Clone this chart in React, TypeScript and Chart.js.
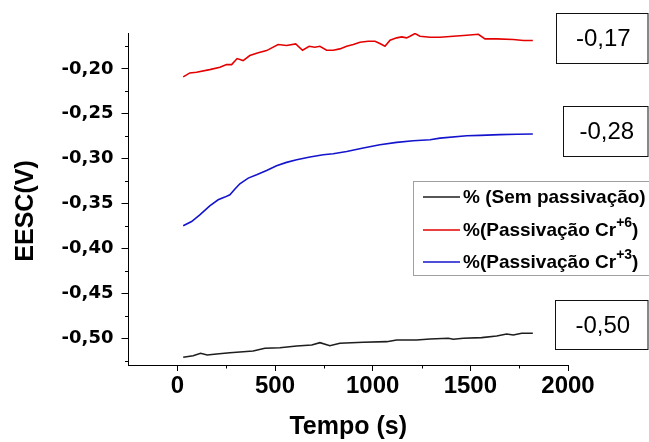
import React, { useEffect, useRef } from "react";
import { Chart, registerables } from "chart.js";

Chart.register(...registerables);

// ---- data ----
const blackTimes = [30, 81, 119, 153, 201, 269, 337, 388, 448, 525, 611, 688, 730, 781, 832, 952, 1072, 1123, 1225, 1294, 1387, 1413, 1464, 1558, 1635, 1686, 1720, 1763, 1820];
const blackValues = [-0.5214, -0.5196, -0.5169, -0.5188, -0.5177, -0.5163, -0.5152, -0.5144, -0.5114, -0.5107, -0.5088, -0.5077, -0.5051, -0.5085, -0.5058, -0.5047, -0.504, -0.5021, -0.5021, -0.501, -0.5002, -0.5013, -0.5002, -0.4995, -0.4976, -0.4954, -0.4965, -0.4946, -0.4946];

const redTimes = [30, 64, 98, 166, 218, 252, 278, 306, 337, 371, 414, 457, 516, 559, 606, 641, 675, 704, 730, 764, 798, 832, 867, 901, 935, 977, 1012, 1037, 1063, 1089, 1123, 1149, 1174, 1191, 1217, 1242, 1294, 1345, 1413, 1482, 1541, 1575, 1635, 1720, 1772, 1820];
const redValues = [-0.2089, -0.2045, -0.2038, -0.2008, -0.1982, -0.1952, -0.1952, -0.1885, -0.1907, -0.1851, -0.1821, -0.1796, -0.1729, -0.174, -0.1721, -0.1792, -0.1748, -0.1759, -0.1748, -0.1792, -0.1792, -0.1777, -0.1748, -0.1729, -0.1703, -0.1692, -0.1692, -0.1718, -0.1748, -0.1681, -0.1654, -0.1643, -0.1654, -0.1636, -0.1606, -0.1636, -0.1647, -0.1647, -0.1636, -0.1625, -0.1614, -0.1665, -0.1665, -0.1673, -0.1684, -0.1684];

const blueTimes = [30, 73, 115, 166, 209, 243, 269, 295, 320, 363, 406, 457, 508, 559, 611, 679, 747, 798, 867, 952, 1037, 1123, 1208, 1294, 1345, 1482, 1550, 1652, 1739, 1820];
const blueValues = [-0.3749, -0.3701, -0.3626, -0.3526, -0.3459, -0.3429, -0.3403, -0.3339, -0.328, -0.3217, -0.318, -0.3132, -0.3079, -0.3042, -0.3012, -0.2982, -0.2956, -0.2945, -0.292, -0.2882, -0.2845, -0.2819, -0.28, -0.2789, -0.2772, -0.2745, -0.2741, -0.2733, -0.2728, -0.2725];

const seriesLabels = ["% (Sem passivação)", "%(Passivação Cr+6)", "%(Passivação Cr+3)"];
const legendMain = ["% (Sem passivação)", "%(Passivação Cr", "%(Passivação Cr"];
const legendSup = ["", "+6", "+3"];
const legendTail = ["", ")", ")"];
const seriesColors = ["#1e1e1e", "rgb(228,0,0)", "rgb(20,20,205)"];

const xTickValues = [0, 500, 1000, 1500, 2000];
const xTickLabels = ["0", "500", "1000", "1500", "2000"];
const xMinorTicks = [250, 750, 1250, 1750];
const yTickValues = [-0.5, -0.45, -0.4, -0.35, -0.3, -0.25, -0.2];
const yTickLabels = ["-0,50", "-0,45", "-0,40", "-0,35", "-0,30", "-0,25", "-0,20"];
const yMinorTicks = [-0.525, -0.475, -0.425, -0.375, -0.325, -0.275, -0.225, -0.175];

const annotationTexts = ["-0,17", "-0,28", "-0,50"];

const xTitle = "Tempo (s)";
const yTitle = "EESC(V)";

// ---- layout (pixels) ----
const annotationBoxes = [
  { left: 556.5, top: 13.5, bottom: 63.5 },
  { left: 563.5, top: 106.5, bottom: 156.5 },
  { left: 555.5, top: 300.5, bottom: 349.5 },
];
const legendBox = { left: 413.5, top: 181.5, bottom: 275.5, rows: [197, 230, 262] };

const FONT = "'Liberation Sans', Arial, sans-serif";

const toPoints = (xs: number[], ys: number[]) => xs.map((x, i) => ({ x, y: ys[i] }));

const extrasPlugin = {
  id: "extras",
  afterDraw(chart: any) {
    const ctx = chart.ctx as CanvasRenderingContext2D;
    const xs = chart.scales.x;
    const ys = chart.scales.y;
    const area = chart.chartArea;
    ctx.save();
    // minor ticks
    ctx.strokeStyle = "#000";
    ctx.lineWidth = 1;
    ctx.beginPath();
    yMinorTicks.forEach((v) => {
      const py = Math.round(ys.getPixelForValue(v)) + 0.5;
      ctx.moveTo(area.left - 3.5, py);
      ctx.lineTo(area.left, py);
    });
    xMinorTicks.forEach((v) => {
      const px = Math.round(xs.getPixelForValue(v)) + 0.5;
      ctx.moveTo(px, area.bottom);
      ctx.lineTo(px, area.bottom + 3.5);
    });
    ctx.stroke();

    // y title
    ctx.save();
    ctx.translate(26, 211);
    ctx.rotate(-Math.PI / 2);
    ctx.font = `bold 25px ${FONT}`;
    ctx.fillStyle = "#000";
    ctx.textAlign = "center";
    ctx.textBaseline = "middle";
    ctx.fillText(yTitle, 0, 0);
    ctx.restore();

    // annotation boxes
    annotationBoxes.forEach((b, i) => {
      ctx.fillStyle = "#fff";
      ctx.fillRect(b.left, b.top, 648 - b.left, b.bottom - b.top);
      ctx.strokeStyle = "#111";
      ctx.lineWidth = 1;
      ctx.strokeRect(b.left, b.top, 648 - b.left, b.bottom - b.top);
      ctx.fillStyle = "#000";
      ctx.font = `24px ${FONT}`;
      ctx.textAlign = "center";
      ctx.textBaseline = "middle";
      ctx.fillText(annotationTexts[i], (b.left + 648) / 2 + 1, (b.top + b.bottom) / 2 + 1);
    });

    // legend
    ctx.fillStyle = "#fff";
    ctx.fillRect(legendBox.left, legendBox.top, 660 - legendBox.left, legendBox.bottom - legendBox.top);
    ctx.strokeStyle = "#a0a0a0";
    ctx.lineWidth = 1;
    ctx.strokeRect(legendBox.left, legendBox.top, 660 - legendBox.left, legendBox.bottom - legendBox.top);
    chart.data.datasets.forEach((ds: any, i: number) => {
      const y = legendBox.rows[i];
      ctx.strokeStyle = ds.borderColor;
      ctx.lineWidth = 1.5;
      ctx.beginPath();
      ctx.moveTo(423, y);
      ctx.lineTo(460, y);
      ctx.stroke();
      ctx.fillStyle = "#000";
      ctx.textAlign = "left";
      ctx.textBaseline = "middle";
      ctx.font = `bold 19px ${FONT}`;
      let x = 463;
      ctx.fillText(legendMain[i], x, y + 1);
      x += ctx.measureText(legendMain[i]).width;
      if (legendSup[i]) {
        ctx.font = `bold 14px ${FONT}`;
        ctx.fillText(legendSup[i], x, y - 7);
        x += ctx.measureText(legendSup[i]).width;
        ctx.font = `bold 19px ${FONT}`;
        ctx.fillText(legendTail[i], x, y + 1);
      }
    });
    ctx.restore();
  },
};

export default function App() {
  const canvasRef = useRef<HTMLCanvasElement | null>(null);

  useEffect(() => {
    const canvas = canvasRef.current;
    if (!canvas) return;
    const chart = new Chart(canvas, {
      type: "line",
      data: {
        datasets: [
          { label: seriesLabels[0], data: toPoints(blackTimes, blackValues), borderColor: seriesColors[0] },
          { label: seriesLabels[1], data: toPoints(redTimes, redValues), borderColor: seriesColors[1] },
          { label: seriesLabels[2], data: toPoints(blueTimes, blueValues), borderColor: seriesColors[2] },
        ].map((d) => ({ ...d, borderWidth: 1.6, pointRadius: 0, tension: 0, fill: false })),
      },
      options: {
        animation: false,
        responsive: false,
        maintainAspectRatio: false,
        devicePixelRatio: 1,
        layout: { padding: { top: 33, right: 81, left: 0, bottom: 0 } },
        plugins: { legend: { display: false }, tooltip: { enabled: false } },
        scales: {
          x: {
            type: "linear",
            min: -250,
            max: 2000,
            afterBuildTicks: (s: any) => {
              s.ticks = xTickValues.map((v) => ({ value: v }));
            },
            afterFit: (s: any) => {
              s.height = 77;
            },
            grid: { drawOnChartArea: false, drawTicks: true, tickLength: 6, tickColor: "#000", tickWidth: 1 },
            border: { display: true, color: "#000", width: 1 },
            ticks: {
              callback: (_v: any, i: number) => xTickLabels[i],
              font: { family: FONT, size: 24, weight: "bold" },
              color: "#000",
              padding: 1,
              maxRotation: 0,
              autoSkip: false,
            },
            title: {
              display: true,
              text: xTitle,
              font: { family: FONT, size: 25, weight: "bold" },
              color: "#000",
              padding: { top: 0, bottom: 0 },
            },
          },
          y: {
            type: "linear",
            min: -0.53,
            max: -0.16,
            afterBuildTicks: (s: any) => {
              s.ticks = yTickValues.map((v) => ({ value: v }));
            },
            afterFit: (s: any) => {
              s.width = 128.5;
            },
            grid: { drawOnChartArea: false, drawTicks: true, tickLength: 7, tickColor: "#000", tickWidth: 1 },
            border: { display: true, color: "#000", width: 1 },
            ticks: {
              callback: (_v: any, i: number) => yTickLabels[i],
              font: { family: "'DejaVu Sans', sans-serif", size: 18, weight: "bold" },
              color: "#000",
              padding: 8,
              autoSkip: false,
            },
          },
        },
      } as any,
      plugins: [extrasPlugin],
    });
    return () => chart.destroy();
  }, []);

  return (
    <div style={{ position: "fixed", left: 0, top: 0, width: 649, height: 442, background: "#fff" }}>
      <canvas ref={canvasRef} width={649} height={442} style={{ display: "block" }} />
    </div>
  );
}
